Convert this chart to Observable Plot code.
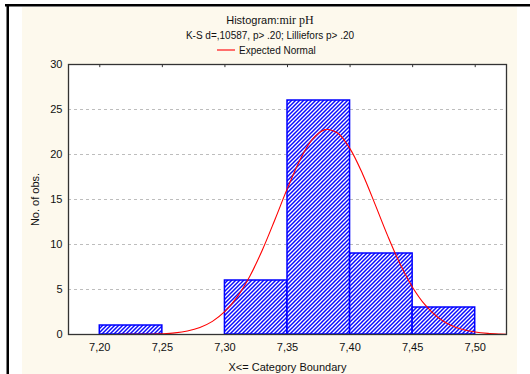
<!DOCTYPE html>
<html>
<head>
<meta charset="utf-8">
<script src="https://cdn.jsdelivr.net/npm/d3@7"></script>
<script src="https://cdn.jsdelivr.net/npm/@observablehq/plot@0.6"></script>
<style>
  html, body { margin: 0; padding: 0; background: white; }
  #chart { width: 530px; height: 374px; position: relative; }
</style>
</head>
<body>
<div id="chart"></div>
<script>
// ---- data ----
const binLower = [7.20, 7.25, 7.30, 7.35, 7.40, 7.45];
const binUpper = [7.25, 7.30, 7.35, 7.40, 7.45, 7.50];
const binCounts = [1, 0, 6, 26, 9, 3];

const normalX = [7.175, 7.20, 7.22, 7.24, 7.25, 7.26, 7.27, 7.28, 7.29, 7.30, 7.31, 7.32, 7.33, 7.34, 7.35, 7.36, 7.37, 7.38, 7.39, 7.40, 7.41, 7.42, 7.43, 7.44, 7.45, 7.46, 7.47, 7.48, 7.49, 7.50, 7.51, 7.52, 7.525];
const normalY = [0, 0, 0.01, 0.03, 0.08, 0.18, 0.39, 0.78, 1.46, 2.56, 4.21, 6.50, 9.42, 12.78, 16.26, 19.40, 21.70, 22.76, 22.38, 20.63, 17.84, 14.46, 10.99, 7.83, 5.23, 3.28, 1.92, 1.06, 0.55, 0.27, 0.12, 0.05, 0.03];

const xTicks = [7.20, 7.25, 7.30, 7.35, 7.40, 7.45, 7.50];
const yTicks = [0, 5, 10, 15, 20, 25, 30];
const gridY = [5, 10, 15, 20, 25];

const titleMain = "Histogram:";
const titleVar = "mir pH";
const subtitle = "K-S d=,10587, p> .20; Lilliefors p> .20";
const legendLabel = "Expected Normal";
const xLabel = "X<= Category Boundary";
const yLabel = "No. of obs.";

const bins = binLower.map((lo, i) => ({lo, hi: binUpper[i], n: binCounts[i]})).filter(d => d.n > 0);
const curve = normalX.map((x, i) => ({x, y: normalY[i]}));

const chart = Plot.plot({
  width: 530,
  height: 374,
  marginLeft: 68,
  marginRight: 24,
  marginTop: 64,
  marginBottom: 40,
  style: {background: "transparent", fontFamily: "'Liberation Sans', Arial, sans-serif", fontSize: "11px", color: "#111"},
  x: {domain: [7.175, 7.525]},
  y: {domain: [0, 30]},
  marks: [
    Plot.frame({fill: "white"}),
    Plot.ruleY(gridY, {stroke: "#bdbdbd", strokeDasharray: "3,3"}),
    Plot.rectY(bins, {x1: "lo", x2: "hi", y: "n", fill: "url(#hatch)", stroke: "#0000ff", strokeWidth: 1.5}),
    Plot.line(curve, {x: "x", y: "y", stroke: "#ff0000", strokeWidth: 1.1, curve: "catmull-rom"}),
    Plot.ruleX(xTicks, {y1: 30, y2: 29.65, stroke: "#333"}),
    Plot.frame({stroke: "#333", strokeWidth: 1.3}),
    Plot.axisY(yTicks, {tickSize: 0, tickPadding: 6, label: yLabel, labelAnchor: "center", labelOffset: 37, labelArrow: "none"}),
    Plot.axisX(xTicks, {tickSize: 0, tickPadding: 9, tickFormat: d => d.toFixed(2).replace(".", ","), label: xLabel, labelAnchor: "center", labelOffset: 36, labelArrow: "none"})
  ]
});

document.getElementById("chart").appendChild(chart);

const svg = d3.select(chart);
// hatch pattern
const defs = svg.insert("defs", ":first-child");
const pat = defs.append("pattern").attr("id", "hatch").attr("patternUnits", "userSpaceOnUse")
  .attr("width", 4).attr("height", 4);
pat.append("rect").attr("width", 4).attr("height", 4).attr("fill", "white");
pat.append("path").attr("d", "M-1,1 L1,-1 M0,4 L4,0 M3,5 L5,3")
  .attr("stroke", "#0a0aff").attr("stroke-width", 1.5);

// background panel & frame
const bg = svg.insert("g", "defs + *");
bg.append("rect").attr("x", 0).attr("y", 0).attr("width", 530).attr("height", 374).attr("fill", "white");
bg.append("rect").attr("x", 22).attr("y", 7).attr("width", 495).attr("height", 367).attr("fill", "#fdf9ed");
bg.append("rect").attr("x", 5).attr("y", 4).attr("width", 525).attr("height", 2.5).attr("fill", "#000");
bg.append("rect").attr("x", 6.5).attr("y", 4).attr("width", 2.5).attr("height", 370).attr("fill", "#000");

// titles and legend
const g = svg.append("g").attr("font-family", "'Liberation Sans', Arial, sans-serif").attr("fill", "#111");
const t = g.append("text").attr("x", 270).attr("y", 24.3).attr("text-anchor", "middle").attr("font-size", 11);
t.append("tspan").text(titleMain);
t.append("tspan").attr("font-family", "'Liberation Serif', 'Times New Roman', serif").attr("font-size", 12).text(titleVar);
g.append("text").attr("x", 270).attr("y", 39).attr("text-anchor", "middle").attr("font-size", 10).text(subtitle);
g.append("line").attr("x1", 217).attr("x2", 235).attr("y1", 50).attr("y2", 50).attr("stroke", "#ff4040").attr("stroke-width", 1.5);
g.append("text").attr("x", 239).attr("y", 54).attr("text-anchor", "start").attr("font-size", 10).text(legendLabel);
</script>
</body>
</html>
